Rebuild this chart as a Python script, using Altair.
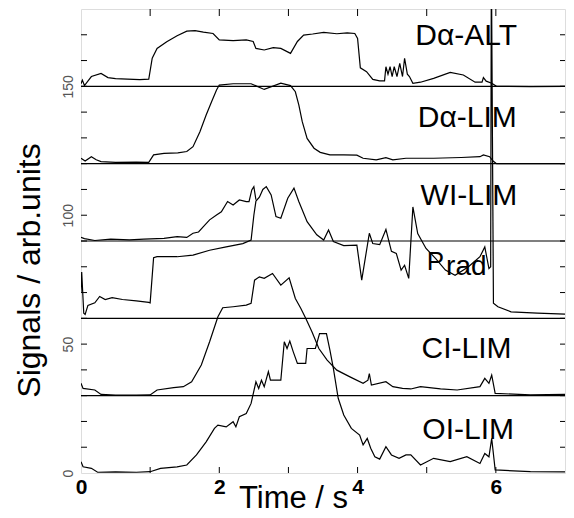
import altair as alt
import pandas as pd

# ---------------- data ----------------
DA_ALT_T = [0, 0.02, 0.05, 0.15, 0.29, 0.39, 0.5, 0.67, 0.85, 0.98, 1.03, 1.1, 1.24, 1.39, 1.53, 1.65, 1.77,
            1.91, 2.0, 2.2, 2.39, 2.49, 2.53, 2.65, 2.78, 2.89, 3.03, 3.13, 3.22, 3.35, 3.51, 3.7, 3.85, 3.96,
            4.0, 4.04, 4.13, 4.22, 4.32, 4.39, 4.41, 4.44, 4.47, 4.5, 4.53, 4.57, 4.61, 4.65, 4.68, 4.72, 4.75,
            4.8, 4.91, 5.1, 5.34, 5.53, 5.7, 5.8, 5.82, 5.86, 5.94, 6.01, 6.5, 7.0]
DA_ALT_V = [151, 152.4, 150.3, 153.8, 155, 153.4, 153, 152.8, 152.6, 152.8, 160.9, 164.7, 167.3, 169.6, 171.4,
            171.6, 171, 170.5, 168, 167.7, 168, 167.4, 164.7, 164.1, 165, 164.7, 162.8, 167.4, 169.9, 170.3,
            170.9, 170.4, 170.7, 170.5, 168.6, 157.2, 155.7, 152.7, 152.1, 152.1, 157.6, 154.7, 157.6, 153.8,
            157.6, 153.8, 158.9, 153.8, 160.9, 154.7, 153.8, 151.2, 151.6, 153.1, 155.4, 154.4, 151.6, 151.6,
            153.4, 152, 151.2, 150, 149.9, 150]

DA_LIM_T = [0, 0.06, 0.15, 0.22, 0.29, 0.5, 0.8, 0.98, 1.05, 1.2, 1.4, 1.53, 1.62, 1.72, 1.81, 1.89, 1.96, 2.0,
            2.2, 2.46, 2.65, 2.89, 3.03, 3.1, 3.15, 3.2, 3.27, 3.37, 3.46, 3.6, 3.8, 3.99, 4.08, 4.27, 4.41,
            4.51, 4.7, 5.1, 5.5, 5.77, 5.82, 5.91, 5.96, 6.01, 7.0]
DA_LIM_V = [122.1, 121, 122.7, 121.5, 120.8, 120.5, 120.6, 120.5, 123.4, 124, 124.2, 124.7, 126.6, 132.4, 138.9,
            144.1, 148.6, 150.5, 151, 151, 148.8, 151.2, 150.3, 147.9, 142.8, 136.3, 129.8, 126, 124.4, 123.4,
            123.4, 123.3, 122.1, 121.5, 122.3, 121.5, 122.1, 122.1, 122.4, 122.7, 123.4, 122.7, 121, 120, 120]

WI_LIM_T = [0, 0.05, 0.2, 0.43, 0.7, 0.91, 1.2, 1.39, 1.53, 1.62, 1.7, 1.77, 1.86, 1.96, 2.03, 2.12, 2.2,
            2.29, 2.39, 2.43, 2.47, 2.5, 2.53]
WI_LIM_V = [91.4, 90.9, 90.2, 90.7, 90.4, 90.7, 91, 91.7, 91.4, 93, 93.5, 95.6, 98.2, 100.1, 101.3, 105.3, 104,
            105.9, 105.3, 105.3, 109.8, 111.1, 106]

PRAD_T = [0, 0.01, 0.04, 0.06, 0.1, 0.2, 0.27, 0.35, 0.45, 0.6, 0.8, 0.98, 1.0, 1.05, 1.1, 1.39, 1.62, 1.86,
          2.1, 2.34, 2.46, 2.5, 2.53, 2.58, 2.63, 2.68, 2.75, 2.82, 2.89, 2.99, 3.08, 3.15, 3.27, 3.41, 3.51,
          3.58, 3.65, 3.8, 3.99, 4.06, 4.17, 4.22, 4.32, 4.41, 4.49, 4.56, 4.63, 4.68, 4.74, 4.8, 4.87, 4.99,
          5.13, 5.27, 5.41, 5.6, 5.77, 5.84, 5.9, 5.925, 5.935, 5.965, 6.03, 6.22, 6.6, 7.0]
PRAD_V = [70, 78, 62, 61.5, 65, 66, 68.5, 67.3, 68, 67.3, 66.8, 66.2, 66, 83.5, 83.9, 83.9, 84.5, 86.4, 87.7,
          89, 90.4, 100, 105.5, 107, 110, 111.1, 107.9, 99.5, 98.8, 106.6, 110.5, 105.3, 97.5, 92.4, 90.4,
          94.3, 89.8, 88.2, 88.4, 74.8, 93, 89, 88.6, 94.5, 86, 85.2, 78.7, 80.6, 75.5, 103.2, 92.9, 87.1,
          83.2, 78.7, 76.7, 79.9, 83.9, 87.7, 79.3, 80, 200, 65.9, 64.5, 62.5, 62, 61.6]

CI_LIM_T = [0, 0.03, 0.2, 0.29, 0.5, 0.8, 1.0, 1.1, 1.34, 1.48, 1.6, 1.74, 1.86, 1.98, 2.05, 2.2, 2.39, 2.46,
            2.51, 2.58, 2.65, 2.77, 2.89, 3.01, 3.1, 3.18, 3.25, 3.34, 3.44, 3.56, 3.7, 3.89, 4.08, 4.15, 4.17,
            4.2, 4.41, 4.51, 4.65, 4.77, 4.91, 5.2, 5.44, 5.77, 5.84, 5.9, 5.94, 5.99, 6.5, 7.0]
CI_LIM_V = [34.8, 32.8, 32.2, 30.5, 30.2, 30.2, 30.3, 32.2, 33.1, 33.5, 35.4, 41.9, 50.9, 60.6, 64.1, 64.5,
            65.1, 65.8, 74.8, 76.1, 75.5, 77.4, 72.9, 75.7, 67.7, 63.8, 60, 54.8, 48.3, 43.8, 39.9, 37.3, 34.8,
            36, 38.6, 34.1, 35.4, 33.5, 32.8, 32.6, 33.5, 32.6, 32.2, 33.5, 36.7, 34.8, 38, 30.9, 30.3, 30.5]

OI_LIM_T = [0, 0.03, 0.15, 0.24, 0.5, 0.8, 1.0, 1.15, 1.39, 1.53, 1.67, 1.81, 1.93, 1.98, 2.1, 2.2, 2.24, 2.29,
            2.39, 2.46, 2.53, 2.57, 2.61, 2.65, 2.71, 2.74, 2.89, 2.94, 2.98, 3.02, 3.07, 3.13, 3.25, 3.27,
            3.39, 3.45, 3.55, 3.6, 3.65, 3.72, 3.8, 3.91, 4.03, 4.08, 4.14, 4.19, 4.25, 4.32, 4.41, 4.49, 4.6,
            4.7, 4.77, 4.91, 5.1, 5.34, 5.58, 5.77, 5.84, 5.9, 5.94, 5.99, 6.5, 7.0]
OI_LIM_V = [4.4, 2.4, 1.8, 0.3, 0.4, 0.3, 0.5, 1.8, 2.4, 3.1, 7, 12.1, 17.3, 18.6, 17.9, 19.9, 17.9, 21.8,
            23.1, 27, 35.4, 32.8, 36, 33.5, 39.3, 36, 36, 50.9, 48.3, 51.2, 47, 42.5, 42.5, 48.3, 48.3, 54.1,
            54.1, 47.7, 40.6, 29, 22.5, 17.3, 14.7, 10.9, 13.4, 9.6, 6.3, 5.4, 10.2, 7, 5.7, 7, 7, 3.1, 5.7,
            4.4, 6.3, 3.7, 7.6, 6.3, 13.4, 1.2, 0.5, 0.4]

BASELINES = [150, 120, 90, 60, 30]
Y_MINOR_TICKS = list(range(10, 180, 10))
X_MINOR_TICKS = [1, 2, 3, 4, 5, 6]
X_LABELS = [0, 2, 4, 6]
Y_LABELS = [0, 50, 100, 150]

LABEL_TEXT = ["Dα-ALT", "Dα-LIM", "WI-LIM", "CI-LIM", "OI-LIM"]
LABEL_T = [5.57, 5.587, 5.61, 5.576, 5.60]
LABEL_V = [165.9, 134.1, 104.0, 44.7, 13.2]
PRAD_MAIN = ["P"]
PRAD_MAIN_T = [5.0]
PRAD_MAIN_V = [78.7]
PRAD_SUB = ["rad"]
PRAD_SUB_T = [5.28]
PRAD_SUB_V = [76.8]

# ---------------- build tables ----------------
series = [("Da-ALT", DA_ALT_T, DA_ALT_V), ("Da-LIM", DA_LIM_T, DA_LIM_V), ("WI-LIM", WI_LIM_T, WI_LIM_V),
          ("Prad", PRAD_T, PRAD_V), ("CI-LIM", CI_LIM_T, CI_LIM_V), ("OI-LIM", OI_LIM_T, OI_LIM_V)]
rows = []
for name, ts, vs in series:
    for i, (t, v) in enumerate(zip(ts, vs)):
        rows.append({"series": name, "i": i, "t": t, "v": v})
df = pd.DataFrame(rows)

W, H = 484, 464
FONT = "Liberation Sans"

xscale = alt.Scale(domain=[0, 7], nice=False, zero=False)
yscale = alt.Scale(domain=[0, 180], nice=False, zero=False)
xaxis = alt.Axis(values=X_LABELS, ticks=False, domain=False, grid=False, labelFontSize=21,
                 labelFontWeight="bold", labelColor="black", labelPadding=3, labelFlush=False,
                 labelFont=FONT, title="Time / s", titleFontSize=31, titleFontWeight="normal",
                 titleColor="black", titleFont=FONT, titleX=212, titleY=34, titleAlign="center",
                 titleBaseline="alphabetic")
yaxis = alt.Axis(values=Y_LABELS, ticks=False, domain=False, grid=False, labelFontSize=14,
                 labelColor="#555555", labelAngle=270, labelAlign="center", labelBaseline="alphabetic",
                 labelPadding=9, labelFont=FONT, title="Signals / arb.units", titleFontSize=32,
                 titleFontWeight="normal", titleColor="black", titleFont=FONT, titleAngle=270,
                 titleX=-42, titleY=261, titleAlign="center", titleBaseline="alphabetic")


def X():
    return alt.X("t:Q", scale=xscale, axis=xaxis)


def Y():
    return alt.Y("v:Q", scale=yscale, axis=yaxis)


lines = alt.Chart(df).mark_line(color="black", strokeWidth=1.2, clip=True).encode(
    x=X(), y=Y(), detail="series:N", order="i:Q")

base_rules = alt.Chart(pd.DataFrame({"v": BASELINES})).mark_rule(color="black", strokeWidth=1.2).encode(
    y=Y(), x=alt.value(0), x2=alt.value(W))

ydf = pd.DataFrame({"v": Y_MINOR_TICKS})
xdf = pd.DataFrame({"t": X_MINOR_TICKS})
tick_l = alt.Chart(ydf).mark_rule(color="black", strokeWidth=1).encode(y=Y(), x=alt.value(0), x2=alt.value(6))
tick_r = alt.Chart(ydf).mark_rule(color="black", strokeWidth=1).encode(y=Y(), x=alt.value(W - 5), x2=alt.value(W))
tick_b = alt.Chart(xdf).mark_rule(color="black", strokeWidth=1).encode(x=X(), y=alt.value(H), y2=alt.value(H - 6))
tick_t = alt.Chart(xdf).mark_rule(color="black", strokeWidth=1).encode(x=X(), y=alt.value(0), y2=alt.value(7))

labels = alt.Chart(pd.DataFrame({"t": LABEL_T, "v": LABEL_V, "txt": LABEL_TEXT})).mark_text(
    font=FONT, fontSize=30, color="black", align="center", baseline="alphabetic").encode(
    x=X(), y=Y(), text="txt:N")
prad_p = alt.Chart(pd.DataFrame({"t": PRAD_MAIN_T, "v": PRAD_MAIN_V, "txt": PRAD_MAIN})).mark_text(
    font=FONT, fontSize=26, color="black", align="left", baseline="alphabetic").encode(
    x=X(), y=Y(), text="txt:N")
prad_s = alt.Chart(pd.DataFrame({"t": PRAD_SUB_T, "v": PRAD_SUB_V, "txt": PRAD_SUB})).mark_text(
    font=FONT, fontSize=28, color="black", align="left", baseline="alphabetic").encode(
    x=X(), y=Y(), text="txt:N")

chart = alt.layer(base_rules, tick_l, tick_r, tick_b, tick_t, lines, labels, prad_p, prad_s).properties(
    width=W, height=H,
    padding={"left": 73, "top": 1, "right": 1, "bottom": 40},
    autosize=alt.AutoSizeParams(type="none"),
    background="white",
).configure_view(stroke="black", strokeWidth=1.5).configure(font=FONT)

chart.save("out.html", embed_options={"renderer": "svg", "actions": False})
